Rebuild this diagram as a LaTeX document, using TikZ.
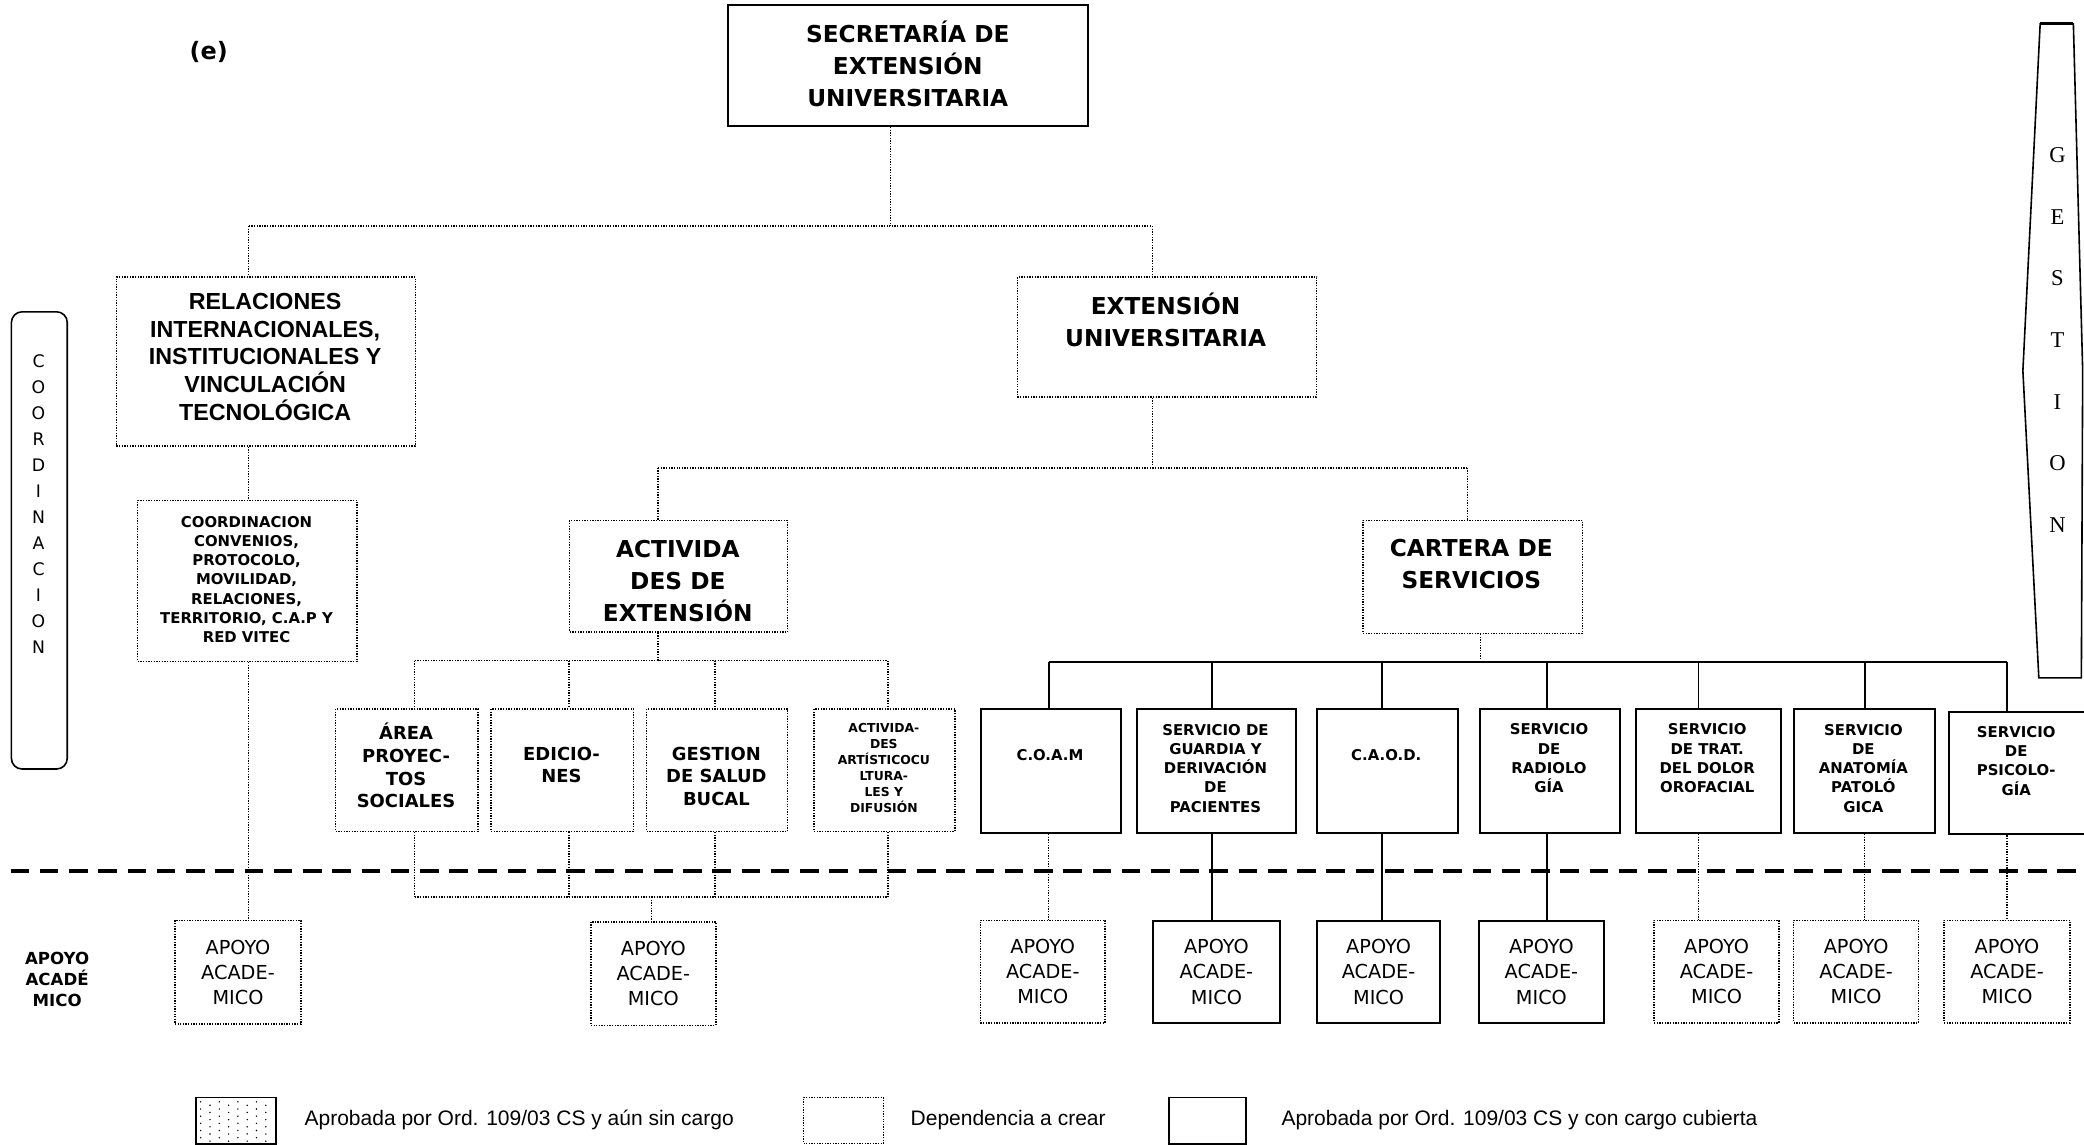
\documentclass[tikz,border=0pt]{standalone}
\usepackage{fontspec}
\newfontfamily\djv{DejaVu Sans}
\newfontfamily\lib{Liberation Sans}
\newfontfamily\libser{Liberation Serif}
\begin{document}
\begin{tikzpicture}[x=1pt,y=-1pt,
  dl/.style={line width=1.1pt, dash pattern=on 1pt off 1pt},
  sl/.style={line width=1.3pt},
  dbox/.style={draw, dl, inner sep=0pt, anchor=north west},
  sbox/.style={draw, line width=1.5pt, inner sep=0pt, anchor=north west},
  sepline/.style={line width=3pt, dash pattern=on 14pt off 8pt},
  tbig/.style={font=\djv\bfseries\fontsize{17.5}{24}\selectfont, align=center, inner sep=0pt},
  tarial/.style={font=\lib\bfseries\fontsize{17.5}{20.75}\selectfont, align=center, inner sep=0pt},
  tsmall/.style={font=\djv\bfseries\fontsize{11.2}{14.5}\selectfont, align=center, inner sep=0pt},
  tmid/.style={font=\djv\bfseries\fontsize{13.5}{17}\selectfont, align=center, inner sep=0pt},
  ttiny/.style={font=\djv\bfseries\fontsize{9.3}{12}\selectfont, align=center, inner sep=0pt},
  tapo/.style={font=\djv\fontsize{14.5}{19}\selectfont, align=center},
  tlab/.style={font=\djv\bfseries\fontsize{12.5}{16}\selectfont, align=center, inner sep=0pt},
  tleg/.style={font=\lib\fontsize{15.8}{18}\selectfont, anchor=west, inner sep=0pt},
  tcoord/.style={font=\djv\fontsize{13}{15}\selectfont, inner sep=0pt},
  tgest/.style={font=\libser\fontsize{17}{19}\selectfont, inner sep=0pt},
  apbox/.style={tapo, inner sep=0pt, anchor=north west, minimum height=77pt}
]
\useasboundingbox (0,0) rectangle (1568,861);
\clip (0,0) rectangle (1568,861);

% ---------- title
\node[font=\djv\bfseries\fontsize{18}{20}\selectfont, inner sep=0pt] (etag) at (157,39) {(e)};

% ---------- main boxes
\node[sbox, minimum width=271pt, minimum height=91pt] (sec) at (547,3) {};
\node[tbig] (sec-t) at (683,48) {SECRETARÍA DE\\EXTENSIÓN\\UNIVERSITARIA};

\node[dbox, minimum width=225pt, minimum height=127pt] (rel) at (87,208) {};
\node[tarial] (rel-t) at (199.5,268.5) {RELACIONES\\INTERNACIONALES,\\INSTITUCIONALES Y\\VINCULACIÓN\\TECNOLÓGICA};

\node[dbox, minimum width=225pt, minimum height=90pt] (ext) at (765,208) {};
\node[tbig] (ext-t) at (877,241) {EXTENSIÓN\\UNIVERSITARIA};

\node[dbox, minimum width=165pt, minimum height=121pt] (coord) at (103,376) {};
\node[tsmall] (coord-t) at (185.5,436) {COORDINACION\\CONVENIOS,\\PROTOCOLO,\\MOVILIDAD,\\RELACIONES,\\TERRITORIO, C.A.P Y\\RED VITEC};

\node[dbox, minimum width=164pt, minimum height=84pt] (act) at (428,391) {};
\node[tbig] (act-t) at (510,437) {ACTIVIDA\\DES DE\\EXTENSIÓN};

\node[dbox, minimum width=165pt, minimum height=85pt] (cart) at (1025,391) {};
\node[tbig] (cart-t) at (1107,424.5) {CARTERA DE\\SERVICIOS};

% ---------- actividades sub-boxes
\node[dbox, minimum width=107pt, minimum height=92pt] (area) at (252,533) {};
\node[tmid] (area-t) at (305.5,576) {ÁREA\\PROYEC-\\TOS\\SOCIALES};
\node[dbox, minimum width=107pt, minimum height=92pt] (edic) at (369,533) {};
\node[tmid] (edic-t) at (422.5,575.5) {EDICIO-\\NES};
\node[dbox, minimum width=106pt, minimum height=92pt] (gest) at (486,533) {};
\node[tmid] (gest-t) at (539,584) {GESTION\\DE SALUD\\BUCAL};
\node[dbox, minimum width=106pt, minimum height=92pt] (arts) at (612,533) {};
\node[ttiny] (arts-t) at (665,578) {ACTIVIDA-\\DES\\ARTÍSTICOCU\\LTURA-\\LES Y\\DIFUSIÓN};

% ---------- services
\node[sbox, minimum width=106pt, minimum height=93pt] (coam) at (737,533) {};
\node[tsmall] (coam-t) at (790,568) {C.O.A.M};
\node[sbox, minimum width=119pt, minimum height=93pt] (guard) at (855,533) {};
\node[tsmall] (guard-t) at (914.5,578) {SERVICIO DE\\GUARDIA Y\\DERIVACIÓN\\DE\\PACIENTES};
\node[sbox, minimum width=106pt, minimum height=93pt] (caod) at (990,533) {};
\node[tsmall] (caod-t) at (1043,568) {C.A.O.D.};
\node[sbox, minimum width=105pt, minimum height=93pt] (radio) at (1113,533) {};
\node[tsmall] (radio-t) at (1165.5,570.5) {SERVICIO\\DE\\RADIOLO\\GÍA};
\node[sbox, minimum width=109pt, minimum height=93pt] (trat) at (1230,533) {};
\node[tsmall] (trat-t) at (1284.5,570.5) {SERVICIO\\DE TRAT.\\DEL DOLOR\\OROFACIAL};
\node[sbox, minimum width=106pt, minimum height=93pt] (anat) at (1349,533) {};
\node[tsmall] (anat-t) at (1402,578) {SERVICIO\\DE\\ANATOMÍA\\PATOLÓ\\GICA};
\node[sbox, minimum width=130pt, minimum height=92pt] (psico) at (1466,535) {};
\node[tsmall] (psico-t) at (1517,572.5) {SERVICIO\\DE\\PSICOLO-\\GÍA};

% ---------- apoyo boxes
\node[apbox, dbox, minimum width=95pt, minimum height=78pt] (ap1) at (131,692) {APOYO\\ACADE-\\MICO};
\node[apbox, dbox, minimum width=94pt, minimum height=78pt] (ap2) at (444,693) {APOYO\\ACADE-\\MICO};
\node[apbox, dbox, minimum width=94pt] (ap3) at (737,692) {APOYO\\ACADE-\\MICO};
\node[apbox, sbox, minimum width=95pt] (ap4) at (867,692) {APOYO\\ACADE-\\MICO};
\node[apbox, sbox, minimum width=93pt] (ap5) at (990,692) {APOYO\\ACADE-\\MICO};
\node[apbox, sbox, minimum width=94pt] (ap6) at (1112,692) {APOYO\\ACADE-\\MICO};
\node[apbox, dbox, minimum width=94pt] (ap7) at (1244,692) {APOYO\\ACADE-\\MICO};
\node[apbox, dbox, minimum width=94pt] (ap8) at (1349,692) {APOYO\\ACADE-\\MICO};
\node[apbox, dbox, minimum width=95pt] (ap9) at (1462,692) {APOYO\\ACADE-\\MICO};

\node[tlab] (aplab) at (43,737) {APOYO\\ACADÉ\\MICO};

% ---------- side labels
\node[draw, line width=1.2pt, rounded corners=8pt, minimum width=42pt, minimum height=344pt, inner sep=0pt, anchor=north west] (cside) at (8,234) {};
\foreach \c [count=\i from 0] in {C,O,O,R,D,I,N,A,C,I,O,N}
  \node[tcoord] (cl\i) at (29,{272+19.55*\i}) {\c};

\draw[line width=1.2pt] (1535,18) -- (1560,18) -- (1567,279) -- (1566,510) -- (1534,510) -- (1522,279) -- cycle;
\draw[line width=2.2pt] (1535,18) -- (1560,18);
\foreach \c [count=\i from 0] in {G,E,S,T,I,O,N}
  \node[tgest] (gl\i) at (1548,{117+46.3*\i}) {\c};

% ---------- connectors, upper part
\coordinate (j1) at (670,170);
\coordinate (j1l) at (187,170);
\coordinate (j1r) at (867,170);
\draw[dl] (sec.south -| j1) -- (j1);
\draw[dl] (j1l) -- (j1r);
\draw[dl] (j1l) -- (rel.north -| j1l);
\draw[dl] (j1r) -- (ext.north -| j1r);
\draw[dl] (rel.south -| j1l) -- (coord.north -| j1l);
\draw[dl] (coord.south -| j1l) -- (ap1.north -| j1l);

\coordinate (j2) at (867,352);
\coordinate (j2l) at (495,352);
\coordinate (j2r) at (1104,352);
\draw[dl] (ext.south -| j2) -- (j2);
\draw[dl] (j2l) -- (j2r);
\draw[dl] (j2l) -- (act.north -| j2l);
\draw[dl] (j2r) -- (cart.north -| j2r);

% actividades bus
\coordinate (j3) at (495,497);
\coordinate (j3l) at (312,497);
\coordinate (j3r) at (668,497);
\draw[dl] (act.south -| j3) -- (j3);
\draw[dl] (j3l) -- (j3r);
\foreach \n/\x in {area/312, edic/428, gest/538, arts/668}{
  \coordinate (t\n) at (\x,497);
  \coordinate (u\n) at (\x,675);
  \draw[dl] (t\n) -- (\n.north -| t\n);
  \draw[dl] (\n.south -| u\n) -- (u\n);
}
\draw[dl] (uarea) -- (uarts);
\coordinate (u2) at (490,675);
\draw[dl] (u2) -- (ap2.north -| u2);

% services bus
\coordinate (k) at (1114,498);
\coordinate (kl) at (789,498);
\coordinate (kr) at (1510,498);
\draw[dl] (cart.south -| k) -- (k);
\draw[sl] (kl) -- (kr);
\foreach \n/\x/\a/\st in {coam/789/ap3/dl, guard/912/ap4/sl, caod/1040/ap5/sl, radio/1164/ap6/sl, trat/1278/ap7/dl, anat/1403/ap8/dl, psico/1510/ap9/dl}{
  \coordinate (s\n) at (\x,498);
  \draw[sl] (s\n) -- (\n.north -| s\n);
  \draw[\st] (\n.south -| s\n) -- (\a.north -| s\n);
}

% separator
\coordinate (sep0) at (8,655);
\coordinate (sep1) at (1575,655);
\draw[sepline] (sep0) -- (sep1);

% ---------- legend
\node[draw, line width=1.3pt, minimum width=60pt, minimum height=35pt, inner sep=0pt, anchor=north west] (lg1) at (147,825) {};
\foreach \i in {0,...,7}
  \foreach \j in {0,...,5}
    \fill ({151+7*\i},{829+5.4*\j+2.6*mod(\i,2)}) circle (0.6pt);
\node[tleg] (lg1-t) at (229,843) {Aprobada por Ord. 109/03 CS y aún sin cargo};
\node[dbox, minimum width=60pt, minimum height=35pt] (lg2) at (604,825) {};
\node[tleg] (lg2-t) at (685,843) {Dependencia a crear};
\node[draw, line width=1.3pt, minimum width=58pt, minimum height=35pt, inner sep=0pt, anchor=north west] (lg3) at (879,825) {};
\node[tleg] (lg3-t) at (964,843) {Aprobada por Ord. 109/03 CS y con cargo cubierta};
\end{tikzpicture}
\end{document}
